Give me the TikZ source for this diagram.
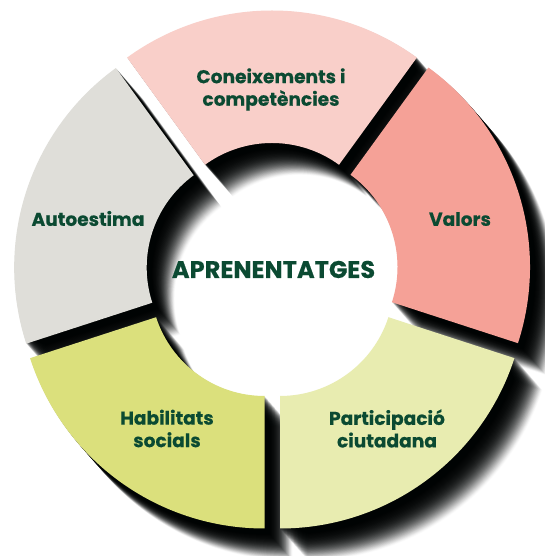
\documentclass[tikz,border=0pt]{standalone}
\usepackage{fontspec}
\setmainfont{Poppins}[BoldFeatures={FakeBold=0.35}]
\definecolor{txt}{HTML}{0B4A32}
\definecolor{cPink}{HTML}{F9CFC9}
\definecolor{cSalmon}{HTML}{F5A197}
\definecolor{cLime}{HTML}{E8ECB0}
\definecolor{cOlive}{HTML}{DBE07C}
\definecolor{cGrey}{HTML}{DFDED9}
\definecolor{cShadow}{HTML}{000303}
\newcommand{\Rout}{246.5}
\newcommand{\Rin}{114}
% apex x, apex y (image pixels), start angle, end angle
\newcommand{\sectorpath}[4]{
  ([shift={(#1,556-#2)}]#3:\Rin) -- ([shift={(#1,556-#2)}]#3:\Rout)
  arc[start angle=#3,end angle=#4,radius=\Rout]
  -- ([shift={(#1,556-#2)}]#4:\Rin)
  arc[start angle=#4,end angle=#3,radius=\Rin] -- cycle
}
\newcommand{\allsectors}{
  \sectorpath{272}{257}{54}{126}
  \sectorpath{283.5}{267}{-18}{54}
  \sectorpath{280}{282}{-90}{-18}
  \sectorpath{264.5}{282}{198}{270}
  \sectorpath{260.7}{267.5}{126}{198}
}
\tikzset{
  lbl/.style={text=txt,align=center,inner sep=0pt,font=\fontsize{18.6}{22.5}\selectfont\bfseries},
  title/.style={text=txt,inner sep=0pt,font=\fontsize{24.1}{26}\selectfont\bfseries}
}
\begin{document}
\begin{tikzpicture}[x=1pt,y=1pt]
\useasboundingbox (0,0) rectangle (545,556);
\clip (0,0) rectangle (545,556);
\fill[white] (0,0) rectangle (545,556);
% directional shadow: swept translucent copies, fading with distance
\foreach \v in {1,...,60}{
  \pgfmathsetmacro\ua{\v/60}
  \pgfmathsetmacro\ub{(\v-1)/60}
  \pgfmathsetmacro\al{1-exp(-5*(\ua*sqrt(\ua)-\ub*sqrt(\ub)))}
  \pgfmathsetmacro\tx{28*(1-\ub)}
  \pgfmathsetmacro\ty{32*(1-\ub)}
  \begin{scope}[xshift=\tx pt,yshift=-\ty pt]
    \fill[cShadow,opacity=\al] \allsectors;
  \end{scope}
}
\fill[cPink] \sectorpath{272}{257}{54}{126};
\fill[cSalmon] \sectorpath{283.5}{267}{-18}{54};
\fill[cLime] \sectorpath{280}{282}{-90}{-18};
\fill[cOlive] \sectorpath{264.5}{282}{198}{270};
\fill[cGrey] \sectorpath{260.7}{267.5}{126}{198};
\node[lbl] (know) at (271,556-89.5) {Coneixements i\\competències};
\node[lbl] (val) at (460,556-219) {Valors};
\node[lbl] (part) at (387,556-428.5) {Participació\\ciutadana};
\node[lbl] (hab) at (167,556-428.5) {Habilitats\\socials};
\node[lbl] (auto) at (88,556-218.5) {Autoestima};
\node[title] (main) at (273.5,556-269.5) {APRENENTATGES};
\end{tikzpicture}
\end{document}
